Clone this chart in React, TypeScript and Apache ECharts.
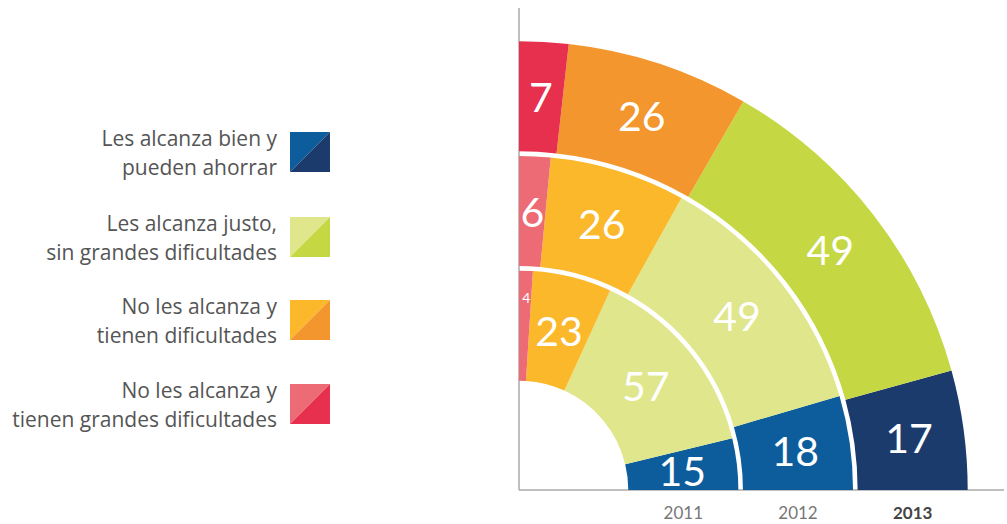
import React, { useEffect, useRef } from "react";
import * as echarts from "echarts";

const years = ["2011", "2012", "2013"];
const seriesLabels = [
  ["Les alcanza bien y", "pueden ahorrar"],
  ["Les alcanza justo,", "sin grandes dificultades"],
  ["No les alcanza y", "tienen dificultades"],
  ["No les alcanza y", "tienen grandes dificultades"],
];
const bien = [15, 18, 17];
const justo = [57, 49, 49];
const dificultades = [23, 26, 26];
const grandes = [4, 6, 7];

const blueShades = ["#0d5c9c", "#0d5c9c", "#1b3b6d"];
const greenShades = ["#e0e68b", "#e0e68b", "#c5d844"];
const orangeShades = ["#fbb82a", "#fbb82a", "#f3962d"];
const redShades = ["#ec6b74", "#ec6b74", "#e6304e"];

const allValues = [bien, justo, dificultades, grandes];
const allShades = [blueShades, greenShades, orangeShades, redShades];

const CX = 519;
const CY = 490;

export default function App() {
  const ref = useRef<HTMLDivElement>(null);
  useEffect(() => {
    if (!ref.current) return;
    const chart = echarts.init(ref.current, undefined, { renderer: "svg" });

    const series = allValues.map((vals, si) => ({
      type: "bar",
      coordinateSystem: "polar",
      stack: "total",
      name: seriesLabels[si].join(" "),
      barCategoryGap: "4%",
      z: 2,
      data: vals.map((v, i) => ({
        value: v,
        itemStyle: { color: allShades[si][i] },
        label: v < 5 ? { fontSize: 14, offset: [2, -28] } : undefined,
      })),
      label: {
        show: true,
        position: "middle",
        rotate: 0,
        color: "#ffffff",
        fontSize: 41,
        fontFamily: "Lato",
      },
    }));

    const legendGraphics: any[] = [];
    const legendCenters = [152, 237, 320, 404];
    seriesLabels.forEach((lines, si) => {
      const cy = legendCenters[si];
      const x0 = 290, x1 = 330, y0 = cy - 20, y1 = cy + 20;
      legendGraphics.push({
        type: "text",
        style: {
          text: lines.join("\n"),
          x: 277,
          y: cy,
          align: "right",
          verticalAlign: "middle",
          font: "21px 'Open Sans'",
          fill: "#555555",
          lineHeight: 29,
        },
      });
      legendGraphics.push({
        type: "polygon",
        shape: { points: [[x0, y0], [x1, y0], [x0, y1]] },
        style: { fill: allShades[si][0] },
      });
      legendGraphics.push({
        type: "polygon",
        shape: { points: [[x1, y0], [x1, y1], [x0, y1]] },
        style: { fill: allShades[si][2] },
      });
    });

    chart.setOption({
      animation: false,
      polar: { center: [CX, CY], radius: [107, 451] },
      angleAxis: {
        type: "value",
        min: 0,
        max: 396,
        startAngle: 0,
        clockwise: false,
        show: false,
      },
      radiusAxis: {
        type: "category",
        z: 10,
        data: years.map((y, i) =>
          i === years.length - 1
            ? { value: y, textStyle: { fontWeight: "bold", color: "#444444" } }
            : y
        ),
        axisLine: { show: false },
        axisTick: { show: false },
        splitLine: { show: false },
        axisLabel: { color: "#777777", fontSize: 17, fontFamily: "Lato", margin: -31 },
      },
      series,
      graphic: [
        {
          type: "line",
          shape: { x1: CX, y1: 8, x2: CX, y2: CY },
          style: { stroke: "#aaaaaa", lineWidth: 1.5 },
        },
        {
          type: "line",
          shape: { x1: CX, y1: CY, x2: 1004, y2: CY },
          style: { stroke: "#aaaaaa", lineWidth: 1.5 },
        },
        ...legendGraphics,
      ],
    });
    return () => chart.dispose();
  }, []);
  return (
    <div
      ref={ref}
      style={{ position: "absolute", left: 0, top: 0, width: 1007, height: 524, background: "#fff" }}
    />
  );
}
